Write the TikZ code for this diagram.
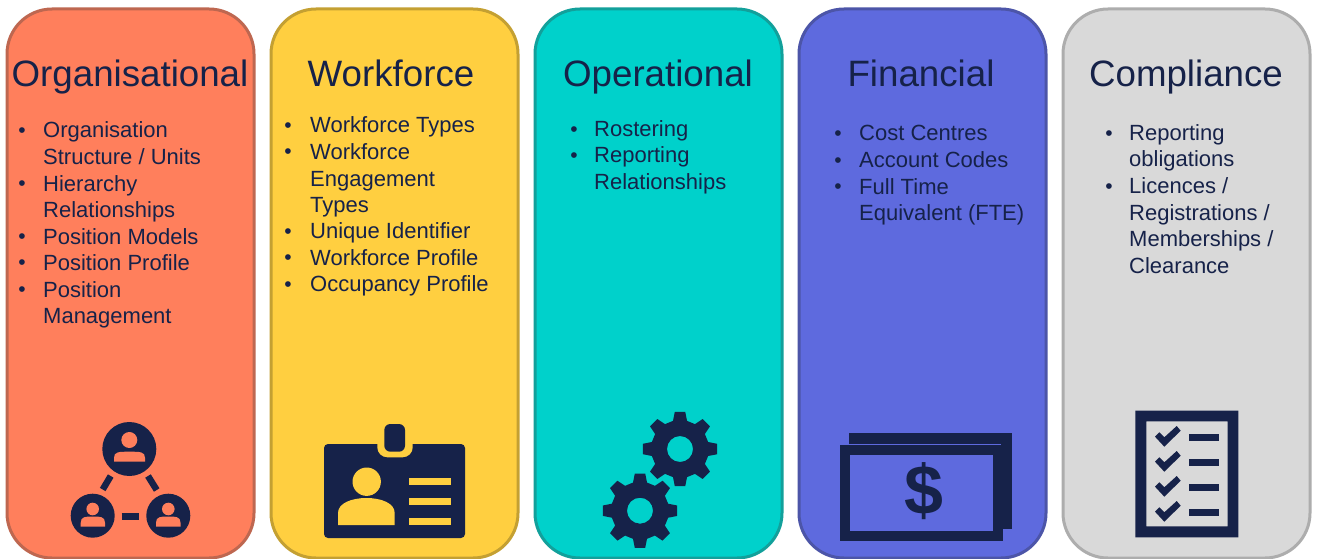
\documentclass[tikz,border=0pt]{standalone}
\usepackage{fontspec}
\setmainfont{Liberation Sans}
\definecolor{ink}{HTML}{162249}
\definecolor{orangef}{HTML}{FF7F5C}\definecolor{oranged}{HTML}{BE6750}
\definecolor{yellowf}{HTML}{FFCF40}\definecolor{yellowd}{HTML}{C4A032}
\definecolor{tealf}{HTML}{00D1CB}\definecolor{teald}{HTML}{12A09B}
\definecolor{bluef}{HTML}{5E6ADE}\definecolor{blued}{HTML}{4C55A8}
\definecolor{grayf}{HTML}{D9D9D9}\definecolor{grayd}{HTML}{ADADAD}
\tikzset{
  panel/.style={rectangle,rounded corners=45pt,line width=3pt,minimum width=247pt,minimum height=549pt,inner sep=0pt,outer sep=0pt},
  paneltitle/.style={anchor=base,text=ink,inner sep=0pt,font=\fontsize{36.7}{40}\selectfont},
  itemtext/.style={anchor=base west,text=ink,inner sep=0pt,font=\fontsize{22}{26}\selectfont},
  itembullet/.style={anchor=center,text=ink,inner sep=0pt,yshift=-2.5pt,font=\fontsize{21}{24}\selectfont},
  icon/.style={fill=ink,draw=none},
}
\newcommand{\personshape}[8]{%
  \fill[#8] (#1,#2) circle (#3);
  \fill[#8] (#4,#7) -- (#4,{#7-4}) .. controls (#4,#6) and ({#4+5},#6) .. ({(#4+#5)/2},#6)
     .. controls ({#5-5},#6) and (#5,#6) .. (#5,{#7-4}) -- (#5,#7) -- cycle;
}
\newcommand{\gearshape}[3]{%
  \begin{scope}[shift={(#1,#2)}]
    \path[#3,even odd rule] (-14:29)
      \foreach \a in {0,45,...,315}{ -- ({\a-14}:29) -- ({\a-8}:37.5) -- ({\a+8}:37.5) -- ({\a+14}:29) } -- cycle
      (0,0) circle (13);
  \end{scope}
}
\newcommand{\checkmarkicon}[1]{%
  \fill[icon,shift={(0,#1)}] (1155,436.7) -- (1159.3,432.3) -- (1164.3,437.3) -- (1176.7,426) -- (1180.7,430.7) -- (1164.3,446.7) -- cycle;
  \fill[icon] (1189,{433.9+#1}) rectangle (1218.7,{441.3+#1});
}
\begin{document}
\begin{tikzpicture}[x=1pt,y=-1pt]
\useasboundingbox (0,0) rectangle (1317,559);
\fill[white] (0,0) rectangle (1317,559);
% panels
\node[panel,fill=orangef,draw=oranged] (porg) at (130.5,283.5) {};
\node[panel,fill=yellowf,draw=yellowd] (pwork) at (394.5,283.5) {};
\node[panel,fill=tealf,draw=teald] (pop) at (658.5,283.5) {};
\node[panel,fill=bluef,draw=blued] (pfin) at (922.5,283.5) {};
\node[panel,fill=grayf,draw=grayd] (pcomp) at (1186.5,283.5) {};
% titles
\node[paneltitle] (torg) at (130,87) {Organisational};
\node[paneltitle] (twork) at (391,87) {Workforce};
\node[paneltitle] (top) at (658,87) {Operational};
\node[paneltitle] (tfin) at (921,87) {Financial};
\node[paneltitle] (tcomp) at (1186,87) {Compliance};
% Organisational list
\node[itembullet] (bo1) at (22,130) {•};
\node[itemtext] (o1) at (43,138) {Organisation};
\node[itemtext] (o2) at (43,164.5) {Structure / Units};
\node[itembullet] (bo2) at (22,183) {•};
\node[itemtext] (o3) at (43,191) {Hierarchy};
\node[itemtext] (o4) at (43,217.5) {Relationships};
\node[itembullet] (bo3) at (22,236) {•};
\node[itemtext] (o5) at (43,244) {Position Models};
\node[itembullet] (bo4) at (22,262) {•};
\node[itemtext] (o6) at (43,270) {Position Profile};
\node[itembullet] (bo5) at (22,289) {•};
\node[itemtext] (o7) at (43,297) {Position};
\node[itemtext] (o8) at (43,323) {Management};
% Workforce list
\node[itembullet] (bw1) at (288,125) {•};
\node[itemtext] (w1) at (310,133) {Workforce Types};
\node[itembullet] (bw2) at (288,151) {•};
\node[itemtext] (w2) at (310,159.5) {Workforce};
\node[itemtext] (w3) at (310,186) {Engagement};
\node[itemtext] (w4) at (310,212) {Types};
\node[itembullet] (bw3) at (288,231) {•};
\node[itemtext] (w5) at (310,238.5) {Unique Identifier};
\node[itembullet] (bw4) at (288,257) {•};
\node[itemtext] (w6) at (310,265) {Workforce Profile};
\node[itembullet] (bw5) at (288,284) {•};
\node[itemtext] (w7) at (310,291.5) {Occupancy Profile};
% Operational list
\node[itembullet] (bp1) at (574,129) {•};
\node[itemtext] (p1) at (594,137) {Rostering};
\node[itembullet] (bp2) at (574,155) {•};
\node[itemtext] (p2) at (594,163) {Reporting};
\node[itemtext] (p3) at (594,189) {Relationships};
% Financial list
\node[itembullet] (bf1) at (838,133) {•};
\node[itemtext] (f1) at (859,141) {Cost Centres};
\node[itembullet] (bf2) at (838,160) {•};
\node[itemtext] (f2) at (859,167.5) {Account Codes};
\node[itembullet] (bf3) at (838,186) {•};
\node[itemtext] (f3) at (859,194) {Full Time};
\node[itemtext] (f4) at (859,220.5) {Equivalent (FTE)};
% Compliance list
\node[itembullet] (bc1) at (1109,133) {•};
\node[itemtext] (c1) at (1129,141) {Reporting};
\node[itemtext] (c2) at (1129,167) {obligations};
\node[itembullet] (bc2) at (1109,186) {•};
\node[itemtext] (c3) at (1129,193.5) {Licences /};
\node[itemtext] (c4) at (1129,220) {Registrations /};
\node[itemtext] (c5) at (1129,246.5) {Memberships /};
\node[itemtext] (c6) at (1129,273) {Clearance};
% Organisation icon
\fill[icon] (129.3,449) circle (27);
\fill[icon] (92.7,515.7) circle (22);
\fill[icon] (168.3,515.7) circle (22);
\personshape{129.3}{440}{8}{114}{145}{451.7}{461.7}{orangef}
\personshape{92.7}{509}{6.3}{80.7}{105}{516.5}{526.7}{orangef}
\personshape{168.3}{509}{6.3}{156}{180.5}{516.5}{526.7}{orangef}
\draw[ink,line width=6.5pt] (110.7,476) -- (102.7,489.5);
\draw[ink,line width=6.5pt] (148,476) -- (156.7,490);
\draw[ink,line width=6.5pt] (121.7,516.3) -- (139.3,516.3);
% Badge icon
\fill[icon,rounded corners=4pt] (324,444) rectangle (465,538);
\fill[yellowf,rounded corners=10pt] (377.3,430) rectangle (412.7,457.3);
\fill[yellowf] (377.3,430) rectangle (412.7,444);
\fill[icon,rounded corners=6pt] (384.3,424) rectangle (405,451.7);
\fill[yellowf] (366.7,481.7) circle (14.2);
\fill[yellowf] (338,525) -- (338,513) .. controls (338,503) and (352,498) .. (366.4,498)
   .. controls (381,498) and (394.7,503) .. (394.7,513) -- (394.7,525) -- cycle;
\fill[yellowf] (408.7,477.7) rectangle (451,485);
\fill[yellowf] (408.7,498) rectangle (451,505);
\fill[yellowf] (408.7,518) rectangle (451,525);
% Gears
\gearshape{640}{510.7}{fill=ink}
\gearshape{680}{449}{draw=tealf,line width=4pt}
\gearshape{680}{449}{fill=ink}
% Money icon
\fill[icon] (849,433) rectangle (1012,529.3);
\draw[bluef,line width=0.8pt] (849,444.2) -- (1001,444.2);
\fill[icon] (840,445) rectangle (1003.3,540.7);
\fill[bluef] (850.3,454.7) rectangle (992.7,530.7);
\node[anchor=center,text=ink,inner sep=0pt,font=\fontsize{70}{70}\selectfont\bfseries] (dollar) at (924,491) {\$};
% Checklist icon
\fill[icon,even odd rule] (1135.3,410.7) rectangle (1238.3,537.3) (1146.3,421.3) rectangle (1227.7,526.3);
\checkmarkicon{0}
\checkmarkicon{25}
\checkmarkicon{50}
\checkmarkicon{75}
\end{tikzpicture}
\end{document}
